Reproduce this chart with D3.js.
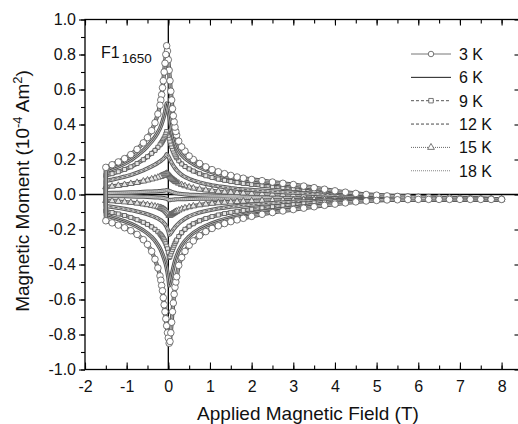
<!DOCTYPE html>
<html><head><meta charset="utf-8">
<script src="https://cdn.jsdelivr.net/npm/d3@7"></script>
<style>
body{margin:0;background:#fff}
svg{display:block}
text{font-family:"Liberation Sans",Arial,Helvetica,sans-serif;fill:#111}
</style>
</head><body>
<svg id="c" width="518" height="424"></svg>
<script>
// ---------------- data ----------------
const field = [-1.5,-1.35,-1.2,-1.05,-0.9,-0.75,-0.6,-0.5,-0.4,-0.32,
 -0.25,-0.2,-0.18,-0.16,-0.14,-0.12,-0.1,-0.08,-0.06,-0.04,
 -0.02,0,0.02,0.04,0.06,0.08,0.1,0.12,0.14,0.16,
 0.18,0.2,0.25,0.32,0.4,0.5,0.6,0.75,0.9,1.05,
 1.2,1.35,1.5,1.65,1.8,2.0,2.25,2.5,2.75,3.0,
 3.25,3.5,3.75,4.0,4.25,4.5,4.75,5.0,5.25,5.5,
 5.75,6.0,6.25,6.5,6.75,7.0,7.25,7.5,7.75,8.0];

const temps = ["3 K","6 K","9 K","12 K","15 K","18 K"];

// upper branch (field sweeping down), listed in the order of `field`
const up3 = [.155,.17,.186,.205,.228,.258,.295,.325,.365,.41,
 .46,.51,.54,.57,.61,.65,.7,.75,.8,.85,
 .82,.77,.71,.65,.59,.54,.49,.45,.415,.385,
 .36,.34,.305,.272,.248,.22,.2,.177,.158,.142,
 .13,.119,.109,.1,.093,.086,.079,.071,.064,.057,
 .048,.039,.03,.021,.013,.006,0,-.004,-.008,-.011,
 -.014,-.016,-.018,-.02,-.021,-.023,-.024,-.025,-.026,-.027];
const low3 = [-.15,-.162,-.175,-.19,-.207,-.228,-.258,-.285,-.325,-.37,
 -.42,-.465,-.49,-.52,-.55,-.59,-.63,-.67,-.71,-.75,
 -.79,-.82,-.85,-.84,-.79,-.73,-.67,-.62,-.57,-.53,
 -.5,-.47,-.405,-.36,-.325,-.29,-.265,-.235,-.212,-.194,
 -.179,-.166,-.155,-.145,-.136,-.125,-.113,-.103,-.094,-.086,
 -.078,-.07,-.062,-.055,-.048,-.042,-.037,-.034,-.031,-.03,
 -.029,-.028,-.028,-.028,-.028,-.028,-.028,-.028,-.028,-.028];

const up6 = [.133,.146,.16,.176,.196,.222,.252,.276,.303,.328,
 .355,.378,.39,.403,.418,.433,.45,.47,.495,.52,
 .505,.48,.45,.42,.395,.37,.35,.33,.313,.298,
 .285,.273,.25,.226,.207,.189,.174,.155,.14,.127,
 .116,.106,.098,.09,.084,.077,.07,.063,.056,.049,
 .041,.033,.025,.017,.011,.005,0,-.004,-.008,-.011,
 -.014,-.016,-.018,-.02,-.021,-.023,-.024,-.025,-.026,-.027];
const low6 = [-.12,-.13,-.141,-.153,-.167,-.184,-.205,-.222,-.243,-.264,
 -.288,-.308,-.318,-.329,-.341,-.354,-.368,-.383,-.4,-.42,
 -.445,-.475,-.52,-.51,-.485,-.46,-.438,-.417,-.398,-.381,
 -.365,-.351,-.322,-.291,-.265,-.24,-.22,-.197,-.179,-.164,
 -.152,-.141,-.132,-.124,-.117,-.108,-.098,-.09,-.082,-.075,
 -.068,-.061,-.055,-.049,-.044,-.04,-.036,-.033,-.031,-.03,
 -.029,-.028,-.028,-.028,-.028,-.028,-.028,-.028,-.028,-.028];

const up9 = [.109,.119,.13,.143,.158,.177,.199,.216,.235,.252,
 .27,.284,.29,.297,.305,.313,.322,.332,.345,.36,
 .352,.338,.322,.305,.289,.274,.26,.248,.237,.227,
 .218,.21,.193,.175,.16,.146,.134,.119,.107,.097,
 .088,.081,.074,.068,.063,.057,.051,.045,.04,.034,
 .028,.022,.016,.01,.005,.001,-.003,-.006,-.009,-.012,
 -.014,-.016,-.018,-.02,-.021,-.023,-.024,-.025,-.026,-.027];
const low9 = [-.095,-.103,-.111,-.12,-.131,-.144,-.159,-.171,-.185,-.199,
 -.213,-.225,-.231,-.237,-.244,-.252,-.26,-.27,-.281,-.295,
 -.31,-.33,-.36,-.355,-.341,-.327,-.314,-.302,-.29,-.279,
 -.269,-.26,-.24,-.218,-.199,-.181,-.167,-.15,-.137,-.126,
 -.117,-.109,-.102,-.096,-.091,-.084,-.077,-.07,-.064,-.058,
 -.053,-.048,-.044,-.04,-.037,-.034,-.032,-.03,-.029,-.028,
 -.028,-.028,-.028,-.028,-.028,-.028,-.028,-.028,-.028,-.028];

const up12 = [.078,.085,.093,.102,.112,.124,.138,.149,.161,.171,
 .181,.189,.192,.196,.2,.204,.209,.214,.221,.23,
 .226,.218,.209,.199,.19,.181,.173,.165,.158,.151,
 .145,.139,.126,.112,.1,.089,.08,.069,.06,.053,
 .047,.042,.037,.033,.03,.026,.022,.018,.014,.011,
 .007,.004,.001,-.002,-.005,-.007,-.009,-.011,-.013,-.015,
 -.016,-.018,-.019,-.02,-.021,-.023,-.024,-.025,-.026,-.027];
const low12 = [-.066,-.071,-.076,-.082,-.089,-.097,-.106,-.113,-.121,-.129,
 -.137,-.144,-.147,-.151,-.155,-.159,-.164,-.17,-.177,-.186,
 -.197,-.21,-.23,-.228,-.221,-.214,-.207,-.2,-.194,-.188,
 -.182,-.177,-.165,-.151,-.138,-.125,-.115,-.103,-.094,-.087,
 -.08,-.075,-.07,-.066,-.062,-.058,-.053,-.049,-.045,-.042,
 -.039,-.037,-.035,-.033,-.031,-.03,-.029,-.028,-.028,-.028,
 -.028,-.028,-.028,-.028,-.028,-.028,-.028,-.028,-.028,-.028];

const up15 = [.043,.047,.051,.056,.062,.068,.076,.082,.088,.093,
 .098,.102,.104,.106,.108,.11,.112,.114,.117,.12,
 .118,.114,.109,.104,.099,.094,.089,.085,.081,.077,
 .074,.071,.064,.056,.049,.042,.036,.03,.025,.021,
 .017,.014,.012,.01,.008,.006,.004,.002,0,-.002,
 -.004,-.006,-.008,-.01,-.011,-.012,-.013,-.014,-.015,-.016,
 -.017,-.018,-.019,-.02,-.021,-.023,-.024,-.025,-.026,-.027];
const low15 = [-.035,-.037,-.04,-.043,-.046,-.05,-.055,-.059,-.063,-.067,
 -.071,-.075,-.077,-.079,-.081,-.083,-.086,-.089,-.093,-.098,
 -.104,-.111,-.12,-.119,-.116,-.113,-.11,-.107,-.104,-.101,
 -.098,-.096,-.09,-.083,-.077,-.071,-.066,-.06,-.055,-.051,
 -.048,-.045,-.043,-.041,-.039,-.037,-.035,-.034,-.033,-.032,
 -.031,-.03,-.03,-.029,-.029,-.029,-.028,-.028,-.028,-.028,
 -.028,-.028,-.028,-.028,-.028,-.028,-.028,-.028,-.028,-.028];

const up18 = [.008,.009,.01,.011,.012,.013,.015,.016,.017,.018,
 .019,.02,.02,.021,.021,.022,.022,.023,.024,.025,
 .024,.023,.021,.019,.017,.015,.013,.012,.01,.009,
 .008,.007,.005,.003,.001,-.001,-.002,-.004,-.005,-.006,
 -.007,-.008,-.009,-.009,-.01,-.011,-.011,-.012,-.013,-.013,
 -.014,-.015,-.015,-.016,-.017,-.017,-.018,-.018,-.019,-.019,
 -.02,-.021,-.021,-.022,-.022,-.023,-.024,-.025,-.026,-.027];
const low18 = [-.008,-.009,-.009,-.01,-.011,-.012,-.013,-.014,-.015,-.016,
 -.017,-.018,-.018,-.019,-.019,-.02,-.021,-.022,-.023,-.025,
 -.027,-.029,-.032,-.032,-.031,-.03,-.03,-.029,-.029,-.028,
 -.028,-.027,-.027,-.026,-.026,-.025,-.025,-.024,-.024,-.024,
 -.024,-.024,-.024,-.024,-.024,-.024,-.024,-.025,-.025,-.025,
 -.025,-.025,-.025,-.026,-.026,-.026,-.026,-.026,-.027,-.027,
 -.027,-.027,-.027,-.027,-.027,-.027,-.027,-.028,-.028,-.028];

const xTicks = [-2,-1,0,1,2,3,4,5,6,7,8];
const yTicks = [-1,-0.8,-0.6,-0.4,-0.2,0,0.2,0.4,0.6,0.8,1];

// ---------------- layout / style ----------------
const upper = [up3, up6, up9, up12, up15, up18];
const lower = [low3, low6, low9, low12, low15, low18];
const styles = [
  {stroke:"#666", dash:null,  w:0.9, marker:"circle"},
  {stroke:"#1a1a1a", dash:null, w:1.0, marker:null},
  {stroke:"#444", dash:"3,2", w:0.9, marker:"square"},
  {stroke:"#333", dash:"3,2", w:0.9, marker:null},
  {stroke:"#555", dash:"1,1", w:0.9, marker:"triangle"},
  {stroke:"#777", dash:"1,1", w:0.9, marker:null}
];

const svg = d3.select("#c");
const L = 85, R = 519.5, T = 19.5, B = 369.5;
const x = d3.scaleLinear().domain([-2, 8.43]).range([L, R]);
const y = d3.scaleLinear().domain([-1, 1]).range([B, T]);

svg.append("defs").append("clipPath").attr("id","clip")
  .append("rect").attr("x",L).attr("y",T).attr("width",R-L).attr("height",B-T);

const symType = {circle:d3.symbolCircle, square:d3.symbolSquare, triangle:d3.symbolTriangle};
const symSize = {circle:34, square:16, triangle:18};

function seriesPoints(k){
  const up = field.map((h,i)=>[h, upper[k][i]]).reverse();
  const lo = field.map((h,i)=>[h, lower[k][i]]);
  return up.concat(lo);
}
const line = d3.line().x(d=>x(d[0])).y(d=>y(d[1])).curve(d3.curveMonotoneX);
const lineRaw = d3.line().x(d=>x(d[0])).y(d=>y(d[1]));

const plot = svg.append("g").attr("clip-path","url(#clip)");

// zero lines
plot.append("line").attr("x1",L).attr("x2",R).attr("y1",y(0)).attr("y2",y(0))
  .attr("stroke","#000").attr("stroke-width",1.3);
plot.append("line").attr("x1",x(0)).attr("x2",x(0)).attr("y1",T).attr("y2",B)
  .attr("stroke","#000").attr("stroke-width",1.3);

for (let k = temps.length-1; k >= 0; k--) {
  const st = styles[k];
  const pts = seriesPoints(k);
  // dense, overlapping markers in the original render as a grey band
  plot.append("path").datum(pts).attr("d", lineRaw)
    .attr("fill","none").attr("stroke","#5a5a5a").attr("stroke-width",4.2)
    .attr("stroke-linejoin","round").attr("stroke-linecap","round");
  plot.append("path").datum(pts).attr("d", lineRaw)
    .attr("fill","none").attr("stroke","#c4c4c4").attr("stroke-width",2.2)
    .attr("stroke-linejoin","round");
  plot.append("path").datum(pts).attr("d", lineRaw)
    .attr("fill","none").attr("stroke", st.stroke).attr("stroke-width", 0.7)
    .attr("stroke-dasharray", st.dash);
  if (st.marker) {
    const sym = d3.symbol().type(symType[st.marker]).size(symSize[st.marker]);
    plot.append("g").selectAll("path").data(pts).join("path")
      .attr("d", sym)
      .attr("transform", d=>`translate(${x(d[0])},${y(d[1])})`)
      .attr("fill", st.marker==="circle" ? "#fff" : "#e6e6e6")
      .attr("stroke","#555").attr("stroke-width",0.8);
  }
}

// ---------------- axes ----------------
const yMinor = d3.range(-10, 11).map(v=>v/10);
const xMinor = d3.range(-4, 17).map(v=>v/2);

// left: outward ticks
svg.append("g").attr("transform",`translate(${L},0)`)
  .call(d3.axisLeft(y).tickValues(yMinor).tickSize(4).tickFormat(""))
  .call(g=>g.select(".domain").remove());
svg.append("g").attr("transform",`translate(${L},0)`)
  .call(d3.axisLeft(y).tickValues(yTicks).tickSize(6).tickPadding(3)
        .tickFormat(d=>d.toFixed(1)))
  .call(g=>g.select(".domain").remove())
  .call(g=>g.selectAll("text").attr("font-size",16).attr("font-family","Liberation Sans, Arial, sans-serif").attr("fill","#111"));

// bottom: inward ticks
svg.append("g").attr("transform",`translate(0,${B})`)
  .call(d3.axisBottom(x).tickValues(xMinor).tickSize(-4).tickFormat(""))
  .call(g=>g.select(".domain").remove());
svg.append("g").attr("transform",`translate(0,${B})`)
  .call(d3.axisBottom(x).tickValues(xTicks).tickSize(-7).tickPadding(11)
        .tickFormat(d=>String(d)))
  .call(g=>g.select(".domain").remove())
  .call(g=>g.selectAll("text").attr("font-size",16).attr("font-family","Liberation Sans, Arial, sans-serif").attr("fill","#111"));

// top: inward ticks
svg.append("g").attr("transform",`translate(0,${T})`)
  .call(d3.axisTop(x).tickValues(xMinor).tickSize(-4).tickFormat(""))
  .call(g=>g.select(".domain").remove());
svg.append("g").attr("transform",`translate(0,${T})`)
  .call(d3.axisTop(x).tickValues(xTicks).tickSize(-6).tickFormat(""))
  .call(g=>g.select(".domain").remove());

// right: inward ticks
svg.append("g").attr("transform",`translate(${R},0)`)
  .call(d3.axisRight(y).tickValues(yTicks).tickSize(-5).tickFormat(""))
  .call(g=>g.select(".domain").remove());

svg.selectAll(".tick line").attr("stroke","#000").attr("stroke-width",1.1);

// frame
svg.append("rect").attr("x",L).attr("y",T).attr("width",R-L).attr("height",B-T)
  .attr("fill","none").attr("stroke","#000").attr("stroke-width",1.3);

// ---------------- titles ----------------
svg.append("text").attr("x",308).attr("y",420).attr("text-anchor","middle")
  .attr("font-size",19).text("Applied Magnetic Field (T)");

const yt = svg.append("text").attr("transform","translate(29,191) rotate(-90)")
  .attr("text-anchor","middle").attr("font-size",19);
yt.append("tspan").text("Magnetic Moment (10");
yt.append("tspan").attr("font-size",13).attr("dy",-7).text("-4");
yt.append("tspan").attr("dy",7).text(" Am");
yt.append("tspan").attr("font-size",13).attr("dy",-7).text("2");
yt.append("tspan").attr("dy",7).text(")");

const lab = svg.append("text").attr("x",101).attr("y",58).attr("font-size",16);
lab.append("tspan").text("F1");
lab.append("tspan").attr("font-size",13.5).attr("dy",5).attr("dx",2).text("1650");

// ---------------- legend ----------------
const lg = svg.append("g");
temps.forEach((t,k)=>{
  const st = styles[k];
  const by = 60 + k*23.35;
  const cy = by - 6;
  lg.append("line").attr("x1",411).attr("x2",451).attr("y1",cy).attr("y2",cy)
    .attr("stroke",st.stroke).attr("stroke-width",st.w).attr("stroke-dasharray",st.dash);
  if (st.marker) {
    lg.append("path").attr("d", d3.symbol().type(symType[st.marker]).size(st.marker==="circle"?24:20)())
      .attr("transform",`translate(431,${cy})`)
      .attr("fill","#fff").attr("stroke","#555").attr("stroke-width",0.8);
  }
  lg.append("text").attr("x",459).attr("y",by).attr("font-size",16).text(t);
});
</script>
</body></html>
